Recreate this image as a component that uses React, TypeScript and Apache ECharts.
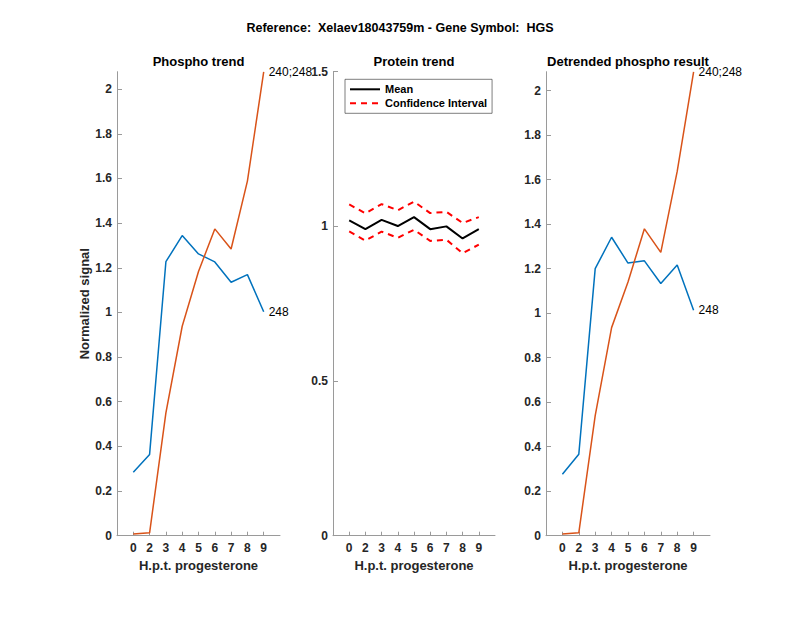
import React, { useEffect, useRef } from "react";
import * as echarts from "echarts";

const timeLabels = ["0", "2", "3", "4", "5", "6", "7", "8", "9"];
const phosphoBlue = [0.284, 0.364, 1.227, 1.344, 1.262, 1.226, 1.135, 1.169, 1.003];
const phosphoOrange = [0.008, 0.013, 0.55, 0.938, 1.183, 1.374, 1.284, 1.588, 2.077];
const proteinMean = [1.019, 0.991, 1.021, 1.001, 1.03, 0.991, 1.0, 0.961, 0.991];
const proteinUpper = [1.071, 1.042, 1.072, 1.052, 1.08, 1.043, 1.047, 1.011, 1.03];
const proteinLower = [0.984, 0.954, 0.983, 0.963, 0.989, 0.953, 0.957, 0.913, 0.941];
const detrBlue = [0.276, 0.366, 1.2, 1.341, 1.225, 1.235, 1.133, 1.216, 1.013];
const detrOrange = [0.008, 0.013, 0.54, 0.935, 1.14, 1.379, 1.273, 1.637, 2.084];
const phosphoTicks = [0, 0.2, 0.4, 0.6, 0.8, 1, 1.2, 1.4, 1.6, 1.8, 2];
const proteinTicks = [0, 0.5, 1, 1.5];
const blueLabel = "248";
const orangeLabel = "240;248";

const FONT = "'Liberation Sans', Arial, Helvetica, sans-serif";
const AXIS_GRAY = "#9a9a9a";
const TEXT_DARK = "#262626";

const toXY = (arr: number[]) => arr.map((v, i) => [i + 1, v]);

export default function App() {
  const ref = useRef<HTMLDivElement>(null);
  useEffect(() => {
    if (!ref.current) return;
    const chart = echarts.init(ref.current, undefined, { renderer: "svg" });
    const grids = [
      { left: 117, top: 71.7, width: 163, height: 464 },
      { left: 333, top: 71.7, width: 162, height: 464 },
      { left: 546, top: 71.7, width: 164, height: 464 },
    ];
    const xAxisBase = (gi: number) => ({
      type: "value",
      gridIndex: gi,
      min: 0,
      max: 10,
      interval: 1,
      name: "H.p.t. progesterone",
      nameLocation: "middle",
      nameGap: 23,
      nameTextStyle: { fontFamily: FONT, fontSize: 13, fontWeight: "bold", color: TEXT_DARK },
      axisLine: { show: true, lineStyle: { color: AXIS_GRAY, width: 1 } },
      axisTick: {
        show: true,
        inside: true,
        length: 4,
        lineStyle: { color: AXIS_GRAY },
        customValues: [1, 2, 3, 4, 5, 6, 7, 8, 9],
      },
      axisLabel: {
        show: true,
        margin: 6,
        fontFamily: FONT,
        fontSize: 12,
        fontWeight: "bold",
        color: TEXT_DARK,
        customValues: [1, 2, 3, 4, 5, 6, 7, 8, 9],
        formatter: (v: number) => timeLabels[Math.round(v) - 1] ?? "",
      },
      splitLine: { show: false },
    });
    const yAxisBase = (gi: number, max: number, interval: number, ticks: number[]) => ({
      type: "value",
      gridIndex: gi,
      min: 0,
      max,
      interval,
      axisLine: { show: true, lineStyle: { color: AXIS_GRAY, width: 1 } },
      axisTick: {
        show: true,
        inside: true,
        length: 5,
        lineStyle: { color: AXIS_GRAY },
        customValues: ticks,
      },
      axisLabel: {
        show: true,
        margin: 5,
        fontFamily: FONT,
        fontSize: 12,
        fontWeight: "bold",
        color: TEXT_DARK,
        customValues: ticks,
        formatter: (v: number) => String(Math.round(v * 10) / 10),
      },
      splitLine: { show: false },
    });
    const endLabel = (text: string) => ({
      show: true,
      formatter: text,
      distance: 5,
      fontFamily: FONT,
      fontSize: 12,
      color: "#000",
    });
    const trendSeries = (gi: number, data: number[], color: string, label: string) => ({
      type: "line",
      xAxisIndex: gi,
      yAxisIndex: gi,
      data: toXY(data),
      symbol: "none",
      clip: false,
      lineStyle: { color, width: 1.5 },
      itemStyle: { color },
      endLabel: endLabel(label),
    });
    const yLeft: any = yAxisBase(0, 2.078, 0.2, phosphoTicks);
    yLeft.name = "Normalized signal";
    yLeft.nameLocation = "middle";
    yLeft.nameGap = 22;
    yLeft.nameTextStyle = { fontFamily: FONT, fontSize: 13, fontWeight: "bold", color: TEXT_DARK };

    const titleStyle = (text: string, x: number, y: number, size: number) => ({
      type: "text",
      x,
      y,
      style: {
        text,
        textAlign: "center",
        textVerticalAlign: "middle",
        fontFamily: FONT,
        fontSize: size,
        fontWeight: "bold",
        fill: "#000",
      },
    });

    chart.setOption({
      animation: false,
      backgroundColor: "#fff",
      grid: grids,
      xAxis: [xAxisBase(0), xAxisBase(1), xAxisBase(2)],
      yAxis: [yLeft, yAxisBase(1, 1.5, 0.5, proteinTicks), yAxisBase(2, 2.085, 0.2, phosphoTicks)],
      legend: {
        orient: "vertical",
        left: 345,
        top: 79.3,
        padding: [3, 5, 3, 4],
        itemWidth: 30,
        itemHeight: 14,
        itemGap: 0,
        backgroundColor: "#fff",
        borderColor: "#262626",
        borderWidth: 0.6,
        borderRadius: 0,
        data: ["Mean", "Confidence Interval"],
        itemStyle: { color: "rgba(0,0,0,0)", borderColor: "rgba(0,0,0,0)", borderWidth: 0, opacity: 0 },
        textStyle: { fontFamily: FONT, fontSize: 11, fontWeight: "bold", color: "#000", lineHeight: 14 },
      },
      graphic: [
        titleStyle("Reference:  Xelaev18043759m - Gene Symbol:  HGS", 400, 28, 12.5),
        titleStyle("Phospho trend", 198.5, 61, 13),
        titleStyle("Protein trend", 414, 61, 13),
        titleStyle("Detrended phospho result", 628, 61, 13),
      ],
      series: [
        trendSeries(0, phosphoBlue, "#0072BD", blueLabel),
        trendSeries(0, phosphoOrange, "#D95319", orangeLabel),
        {
          name: "Mean",
          type: "line",
          xAxisIndex: 1,
          yAxisIndex: 1,
          data: toXY(proteinMean),
          symbol: "none",
          lineStyle: { color: "#000", width: 2 },
          itemStyle: { color: "#000" },
        },
        {
          name: "Confidence Interval",
          type: "line",
          xAxisIndex: 1,
          yAxisIndex: 1,
          data: toXY(proteinUpper),
          symbol: "none",
          lineStyle: { color: "#ff0000", width: 2, type: [6, 5] },
          itemStyle: { color: "#ff0000" },
        },
        {
          name: "Confidence Interval",
          type: "line",
          xAxisIndex: 1,
          yAxisIndex: 1,
          data: toXY(proteinLower),
          symbol: "none",
          lineStyle: { color: "#ff0000", width: 2, type: [6, 5] },
          itemStyle: { color: "#ff0000" },
        },
        trendSeries(2, detrBlue, "#0072BD", blueLabel),
        trendSeries(2, detrOrange, "#D95319", orangeLabel),
      ],
    });
    return () => chart.dispose();
  }, []);
  return (
    <div
      ref={ref}
      style={{ position: "fixed", left: 0, top: 0, width: 800, height: 618, background: "#fff" }}
    />
  );
}
